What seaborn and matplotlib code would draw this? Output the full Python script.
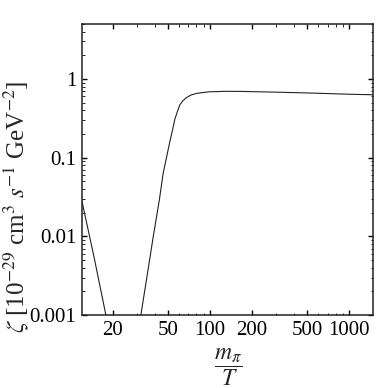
import matplotlib
matplotlib.use("Agg")
import matplotlib.pyplot as plt
import seaborn as sns
import numpy as np
import pandas as pd
from matplotlib.ticker import LogLocator, NullFormatter

# Data
left_x = [12.0, 14.7, 17.9]
left_y = [0.029, 0.0055, 0.001]
right_x = [31.9, 35, 39, 43.3, 46.1, 49, 51.5, 54, 56, 58.5, 60.8, 64, 67.8, 73, 80,
           90, 99.5, 131, 170, 250, 500, 1000, 1480]
right_y = [0.001, 0.0028, 0.0095, 0.029, 0.063, 0.105, 0.16, 0.23, 0.31, 0.39, 0.47,
           0.53, 0.58, 0.625, 0.655, 0.675, 0.688, 0.697, 0.695, 0.685, 0.665, 0.64, 0.63]
x_ticks = [20, 50, 100, 200, 500, 1000]
x_ticklabels = ["20", "50", "100", "200", "500", "1000"]
y_ticks = [0.001, 0.01, 0.1, 1]
y_ticklabels = ["0.001", "0.01", "0.1", "1"]

sns.set_style("ticks")
plt.rcParams["font.family"] = ["Liberation Serif", "DejaVu Serif"]
plt.rcParams["mathtext.fontset"] = "stix"

fig = plt.figure(figsize=(3.77, 3.88), dpi=100)
ax = fig.add_axes([0.2167, 0.188, 0.9894 - 0.2167, 0.9394 - 0.188])

df_l = pd.DataFrame({"x": left_x, "y": left_y})
df_r = pd.DataFrame({"x": right_x, "y": right_y})
sns.lineplot(data=df_l, x="x", y="y", ax=ax, color="#222222", lw=0.8, sort=False)
sns.lineplot(data=df_r, x="x", y="y", ax=ax, color="#222222", lw=0.8, sort=False)

ax.set_xscale("log")
ax.set_yscale("log")
ax.set_xlim(12, 1480)
ax.set_ylim(0.001, 5.07)

ax.set_xticks(x_ticks)
ax.set_xticklabels(x_ticklabels)
ax.set_yticks(y_ticks)
ax.set_yticklabels(y_ticklabels)
ax.xaxis.set_minor_locator(LogLocator(base=10, subs=np.arange(2, 10)))
ax.yaxis.set_minor_locator(LogLocator(base=10, subs=np.arange(2, 10)))
ax.xaxis.set_minor_formatter(NullFormatter())
ax.yaxis.set_minor_formatter(NullFormatter())

ax.tick_params(which="both", direction="in", top=True, right=True, labelsize=15, colors="black")
ax.tick_params(which="major", length=3.5, width=1.0, pad=4)
ax.tick_params(which="minor", length=1.8, width=0.6)
for s in ax.spines.values():
    s.set_linewidth(1.1)
    s.set_color("#222222")

ax.set_xlabel("")
ax.set_ylabel("")

fig.text(16 / 377, 1 - 207 / 388,
         r"$\zeta$ [10$^{-29}$ cm$^{3}$ $s^{-1}$ GeV$^{-2}$]",
         rotation=90, ha="center", va="center", fontsize=18)
fig.text(228 / 377, 1 - 367 / 388, r"$\dfrac{m_\pi}{T}$",
         ha="center", va="center", fontsize=17)

fig.savefig("out.png", dpi=100)
